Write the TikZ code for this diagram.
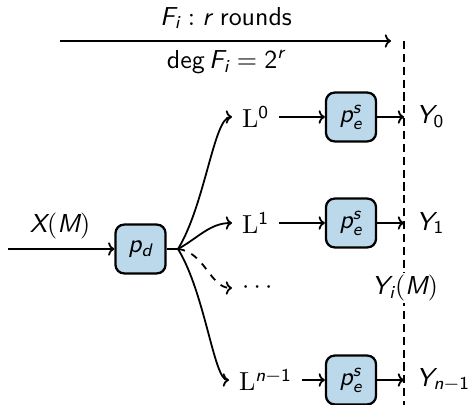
\documentclass[tikz,border=0pt]{standalone}
\usetikzlibrary{arrows.meta}
\DeclareMathAlphabet{\mathsfit}{TU}{lmss}{m}{sl}
\DeclareMathAlphabet{\mathsfup}{TU}{lmss}{m}{n}
\newcommand{\vv}[1]{\mathsfit{#1}}
\newcommand{\vu}[1]{\mathsfup{#1}}
\definecolor{boxblue}{RGB}{187,217,235}
\tikzset{
  proc/.style={draw=black, line width=0.95pt, fill=boxblue, rounded corners=3.6pt, minimum width=21pt, minimum height=20.5pt, inner sep=0pt},
  conn/.style={line width=0.75pt, -{To[length=2.6pt,width=5.6pt]}},
  lab/.style={inner sep=1pt},
  lnode/.style={anchor=west, inner xsep=4pt, inner ysep=1pt},
  ynode/.style={anchor=west, inner xsep=5pt, inner ysep=1pt},
}
\begin{document}
\begin{tikzpicture}[x=0.42pt, y=-0.42pt, font=\sffamily\fontsize{10.9}{13}\selectfont]
\useasboundingbox (0,0) rectangle (469,405);
% top arrow and labels
\coordinate (ta) at (60,41);
\coordinate (tb) at (391,41);
\draw[conn] (ta) -- (tb);
\node[lab] (title) at (226,18) {$\vv{F}_{\vv{i}} : \vv{r}$ rounds};
\node[lab] (deg) at (226,62) {$\vu{deg}\,\vv{F}_{\vv{i}} = \vu{2}^{\vv{r}}$};
% dashed vertical
\coordinate (da) at (404,41);
\coordinate (db) at (404,405);
\draw[line width=0.5pt, dash pattern=on 3.4pt off 2pt] (da) -- (db);
% input
\coordinate (xin) at (8,249);
\node[proc] (pd) at (140.5,249) {$\vv{p}_{\vv{d}}$};
\node[lab] (xm) at (60,226) {$\vv{X}\vu{(}\vv{M}\vu{)}$};
\draw[conn] (xin) -- (pd);
\coordinate (br) at (178,249);
\draw[line width=0.75pt] (pd.east) -- (br);
% L nodes
\node[lnode] (L0) at (232,117) {$\mathrm{L}^{\vu{0}}$};
\node[lnode] (L1) at (232,223) {$\mathrm{L}^{\vu{1}}$};
\node[lnode] (Ld) at (232,288) {$\cdots$};
\node[lnode] (Ln) at (229,380) {$\mathrm{L}^{\vv{n}-\vu{1}}$};
% branches
\draw[conn] (br) .. controls (205,205) and (214,117) .. (L0.west);
\draw[conn] (br) .. controls (198,238) and (210,223) .. (L1.west);
\draw[conn, dashed] (br) .. controls (205,252) and (210,288) .. (Ld.west);
\draw[conn] (br) .. controls (205,293) and (214,380) .. (Ln.west);
% p_e boxes
\node[proc] (pe0) at (351,117) {$\vv{p}_{\vv{e}}^{\vv{s}}$};
\node[proc] (pe1) at (351,223) {$\vv{p}_{\vv{e}}^{\vv{s}}$};
\node[proc] (pen) at (351,380) {$\vv{p}_{\vv{e}}^{\vv{s}}$};
\draw[conn] (L0) -- (pe0);
\draw[conn] (L1) -- (pe1);
\draw[conn] (Ln) -- (pen);
% outputs
\node[ynode] (Y0) at (404,117) {$\vv{Y}_{\vu{0}}$};
\node[ynode] (Y1) at (404,223) {$\vv{Y}_{\vu{1}}$};
\node[ynode] (Yn) at (404,380) {$\vv{Y}_{\vv{n}-\vu{1}}$};
\draw[conn] (pe0) -- (Y0.west);
\draw[conn] (pe1) -- (Y1.west);
\draw[conn] (pen) -- (Yn.west);
\node[lab, fill=white] (Yi) at (405,288) {$\vv{Y}_{\vv{i}}\vu{(}\vv{M}\vu{)}$};
\end{tikzpicture}
\end{document}
